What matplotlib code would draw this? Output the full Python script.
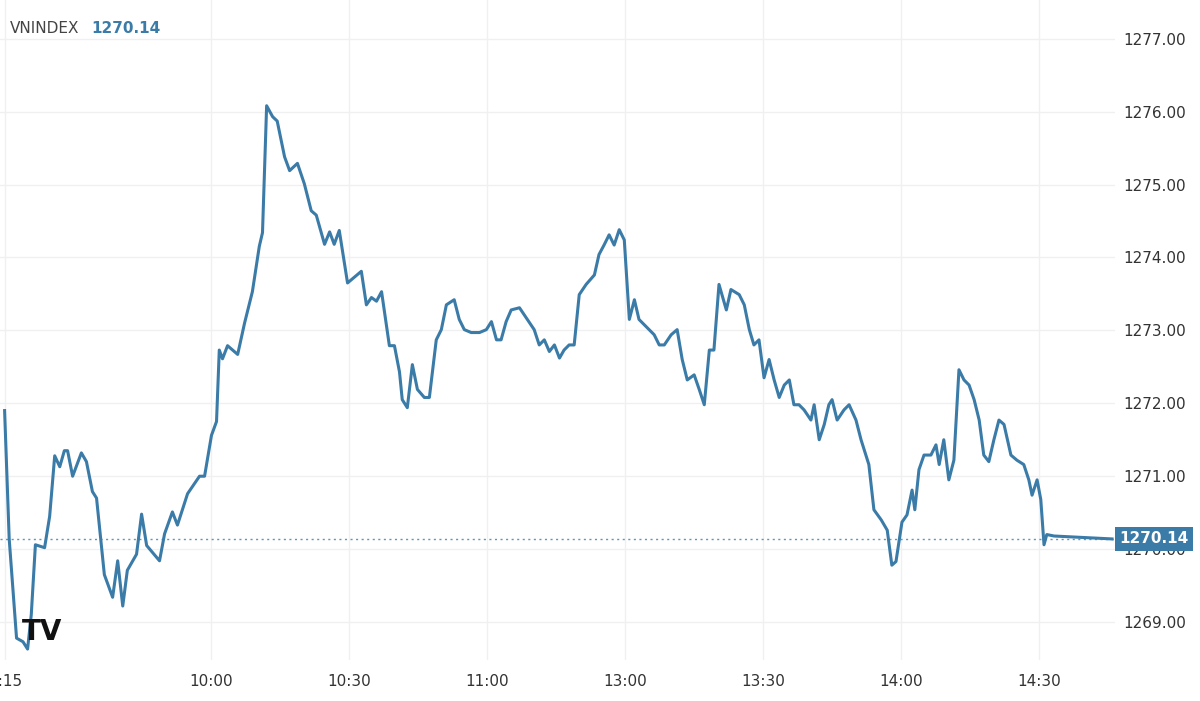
import matplotlib.pyplot as plt
import matplotlib.patheffects as pe

# trading minutes since 9:15 (lunch break removed), VN-Index value
minutes = [0, 1, 2.6, 4, 5, 5.8, 6.7, 8.7, 9.8, 10.9, 12, 13, 13.7, 14.8, 16.7, 17.8,
           19.1, 20, 21.7, 23.5, 24.6, 25.7, 26.7, 28.7, 29.8, 30.9, 33.7, 34.8, 36.5,
           37.6, 39.8, 42.4, 43.5, 45, 46.1, 46.7, 47.4, 48.5, 50.7, 52.2, 53.9, 55.4,
           56.1, 57, 58.3, 59.3, 60.9, 62, 63.7, 65.2, 66.7, 67.8, 69.6, 70.7, 71.7,
           72.8, 74.6, 77.6, 78.7, 79.8, 80.9, 82, 83.7, 84.8, 85.9, 86.5, 87.6, 88.7,
           89.8, 91.3, 92.4, 93.9, 95, 96.1, 97.8, 98.9, 100, 101.5, 103.3, 104.8, 105.9,
           107, 108, 109.1, 110.2, 112, 113.5, 115.2, 116.3, 117.4, 118.5, 119.6, 120.7,
           121.7, 122.8, 123.9, 125, 126.5, 128.3, 129.3, 130.4, 131.5, 132.6, 133.7,
           134.8, 135.9, 137, 138, 139.1, 140.2, 141.3, 142.4, 143.5, 145, 146.3, 147.4,
           148.5, 150, 151.1, 152.2, 153.3, 154.3, 155.4, 157, 158, 159.8, 160.9, 162,
           163, 164.1, 165.2, 166.3, 167.4, 168.5, 169.6, 170.7, 171.7, 172.8, 173.9,
           175.4, 176.1, 177.2, 178.3, 179.3, 180, 181.1, 182.6, 183.7, 185.2, 186.3,
           188, 189.1, 190.7, 192, 193, 193.9, 195.2, 196.3, 197.4, 198, 198.9, 200,
           201.5, 202.6, 203.3, 204.3, 205.4, 206.5, 207.6, 208.7, 209.8, 210.9, 212,
           213, 214.1, 215.2, 216.3, 217.4, 218.9, 220.2, 221.7, 222.8, 223.5, 224.6,
           225.4, 226.1, 226.7, 228.3, 240.9]
values = [1271.90, 1270.14, 1268.78, 1268.73, 1268.63, 1269.10, 1270.06, 1270.02, 1270.45,
          1271.28, 1271.13, 1271.35, 1271.35, 1271.00, 1271.32, 1271.20, 1270.79, 1270.70,
          1269.65, 1269.34, 1269.84, 1269.22, 1269.71, 1269.93, 1270.48, 1270.05, 1269.84,
          1270.21, 1270.51, 1270.33, 1270.76, 1271.00, 1271.00, 1271.56, 1271.75, 1272.73,
          1272.61, 1272.79, 1272.67, 1273.10, 1273.53, 1274.15, 1274.34, 1276.08, 1275.93,
          1275.87, 1275.38, 1275.19, 1275.29, 1275.01, 1274.64, 1274.58, 1274.18, 1274.35,
          1274.18, 1274.37, 1273.65, 1273.81, 1273.35, 1273.45, 1273.40, 1273.53, 1272.79,
          1272.79, 1272.43, 1272.05, 1271.94, 1272.53, 1272.19, 1272.08, 1272.08, 1272.87,
          1273.01, 1273.35, 1273.42, 1273.15, 1273.01, 1272.97, 1272.97, 1273.01, 1273.12,
          1272.87, 1272.87, 1273.12, 1273.28, 1273.31, 1273.17, 1273.01, 1272.80, 1272.87,
          1272.71, 1272.80, 1272.62, 1272.73, 1272.80, 1272.80, 1273.49, 1273.63, 1273.76,
          1274.04, 1274.17, 1274.31, 1274.17, 1274.38, 1274.24, 1273.15, 1273.42, 1273.15,
          1273.08, 1273.01, 1272.94, 1272.80, 1272.80, 1272.94, 1273.01, 1272.60, 1272.32,
          1272.39, 1272.19, 1271.98, 1272.73, 1272.73, 1273.63, 1273.28, 1273.56, 1273.49,
          1273.35, 1273.01, 1272.80, 1272.87, 1272.35, 1272.60, 1272.32, 1272.08, 1272.25,
          1272.32, 1271.98, 1271.98, 1271.91, 1271.77, 1271.98, 1271.50, 1271.71, 1271.98,
          1272.05, 1271.77, 1271.91, 1271.98, 1271.77, 1271.50, 1271.16, 1270.54, 1270.40,
          1270.26, 1269.78, 1269.83, 1270.37, 1270.47, 1270.81, 1270.54, 1271.09, 1271.29,
          1271.29, 1271.43, 1271.16, 1271.50, 1270.95, 1271.22, 1272.46, 1272.32, 1272.25,
          1272.05, 1271.77, 1271.29, 1271.20, 1271.50, 1271.77, 1271.71, 1271.29, 1271.22,
          1271.16, 1270.95, 1270.74, 1270.95, 1270.68, 1270.06, 1270.20, 1270.18, 1270.14]

last_value = 1270.14
tick_minutes = [0, 45, 75, 105, 135, 165, 195, 225]
tick_labels = ["9:15", "10:00", "10:30", "11:00", "13:00", "13:30", "14:00", "14:30"]
y_ticks = [1269, 1270, 1271, 1272, 1273, 1274, 1275, 1276, 1277]

line_color = "#3b7ba8"

fig = plt.figure(figsize=(12, 7.01), dpi=100)
ax = fig.add_axes([0, 0.0585, 0.929, 0.9415])
ax.plot(minutes, values, color=line_color, lw=2.2)
ax.axhline(last_value, color=line_color, lw=1, ls=(0, (1.5, 2.5)), alpha=0.8)

ax.set_xlim(-1, 241.5)
ax.set_ylim(1268.48, 1277.53)
ax.set_xticks(tick_minutes)
ax.set_xticklabels(tick_labels)
ax.set_yticks(y_ticks)
ax.set_yticklabels([f"{v:.2f}" for v in y_ticks])
ax.yaxis.tick_right()
ax.tick_params(length=0, labelsize=11, colors="#333333", pad=6)
ax.tick_params(axis="x", pad=10)
for s in ax.spines.values():
    s.set_visible(False)
ax.grid(True, color="#f0f0f0", lw=1)

ax.text(1.004, last_value, f"{last_value:.2f}", transform=ax.get_yaxis_transform(),
        ha="left", va="center", fontsize=11, color="white", fontweight="bold",
        bbox=dict(boxstyle="square,pad=0.3", fc=line_color, ec="none"))

fig.text(0.008, 0.96, "VNINDEX", fontsize=11, color="#444444", va="center")
fig.text(0.076, 0.96, f"{last_value:.2f}", fontsize=11, color=line_color,
         fontweight="bold", va="center")
fig.text(0.018, 0.098, "TV", fontsize=20, fontweight="black", color="#111111",
         va="center")

fig.savefig("out.png", dpi=100)
